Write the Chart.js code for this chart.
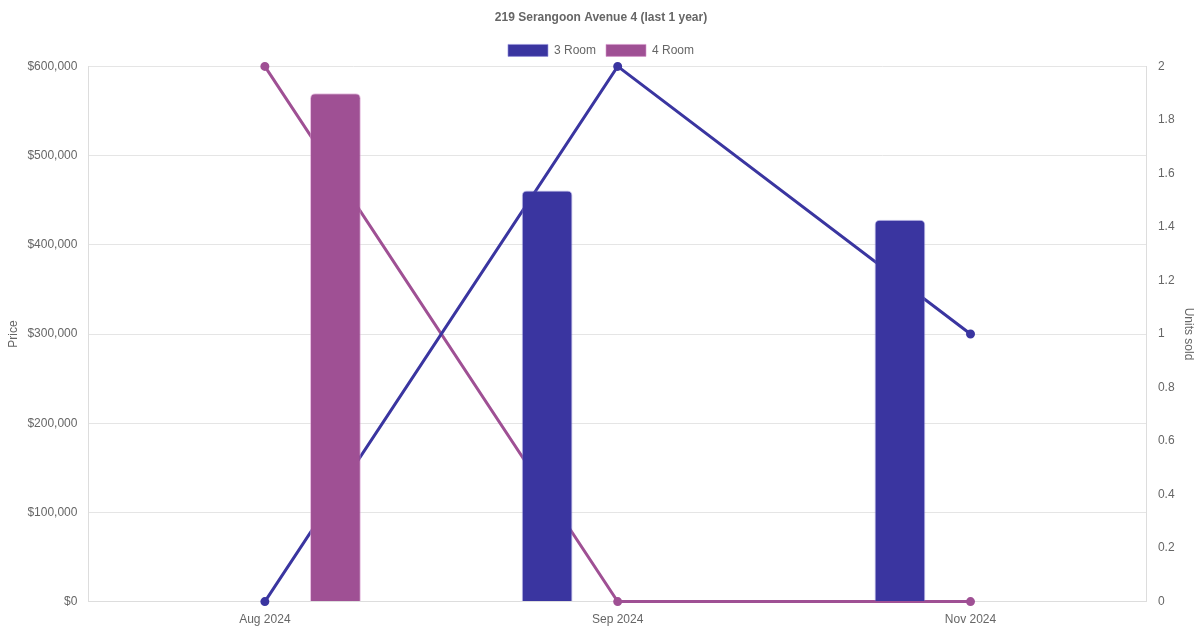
<!DOCTYPE html>
<html>
<head>
<meta charset="utf-8">
<script src="https://cdn.jsdelivr.net/npm/chart.js@4.4.0/dist/chart.umd.min.js"></script>
<style>
    html, body { margin: 0; padding: 0; background: #ffffff; }
    #box { width: 1200px; height: 630px; }
</style>
</head>
<body>
<div id="box"><canvas id="grafico"></canvas></div>
<script>
const meses = ['Aug 2024', 'Sep 2024', 'Nov 2024'];

// preços médios (barras, eixo esquerdo)
const preco3Room = [null, 461000, 428000];
const preco4Room = [570000, null, null];

// unidades vendidas (linhas, eixo direito)
const vendidos3Room = [0, 2, 1];
const vendidos4Room = [2, 0, 0];

const cor3 = '#3A35A0';
const cor4 = '#9F5094';

Chart.defaults.font.family = '"Liberation Sans", Arial, sans-serif';
Chart.defaults.font.size = 12;
Chart.defaults.color = '#666666';

const config = {
    type: 'bar',
    data: {
        labels: meses,
        datasets: [{
            label: '3 Room',
            data: preco3Room,
            backgroundColor: cor3,
            borderColor: 'rgba(150,145,220,0.6)',
            borderWidth: 1,
            borderRadius: 5,
            borderSkipped: 'bottom',
            yAxisID: 'y',
            barPercentage: 0.36,
            categoryPercentage: 0.8,
            order: 1
        },
        {
            label: '4 Room',
            data: preco4Room,
            backgroundColor: cor4,
            borderColor: 'rgba(215,150,205,0.6)',
            borderWidth: 1,
            borderRadius: 5,
            borderSkipped: 'bottom',
            yAxisID: 'y',
            barPercentage: 0.36,
            categoryPercentage: 0.8,
            order: 1
        },
        {
            type: 'line',
            label: '3 Room units',
            data: vendidos3Room,
            borderColor: cor3,
            backgroundColor: cor3,
            borderWidth: 3,
            pointRadius: 3,
            tension: 0,
            clip: false,
            yAxisID: 'y1',
            order: 2
        },
        {
            type: 'line',
            label: '4 Room units',
            data: vendidos4Room,
            borderColor: cor4,
            backgroundColor: cor4,
            borderWidth: 3,
            pointRadius: 3,
            tension: 0,
            clip: false,
            yAxisID: 'y1',
            order: 2
        }]
    },
    options: {
        responsive: true,
        maintainAspectRatio: false,
        animation: false,
        layout: { padding: { left: 2, right: 0, top: 0, bottom: 0 } },
        scales: {
            x: {
                grid: { display: false },
                border: { color: '#dddddd' }
            },
            y: {
                position: 'left',
                min: 0,
                max: 600000,
                ticks: {
                    stepSize: 100000,
                    callback: function (v) { return '$' + v.toLocaleString('en-US'); }
                },
                grid: { color: '#e5e5e5', tickColor: 'rgba(0,0,0,0)' },
                border: { color: '#dddddd' },
                title: { display: true, text: 'Price', padding: { top: 4, bottom: 4 } }
            },
            y1: {
                position: 'right',
                min: 0,
                max: 2,
                ticks: {
                    stepSize: 0.2,
                    callback: function (v) { return String(Math.round(v * 10) / 10); }
                },
                grid: { drawOnChartArea: false, tickColor: 'rgba(0,0,0,0)' },
                border: { color: '#dddddd' },
                title: { display: true, text: 'Units sold', padding: { top: 4, bottom: 4 } }
            }
        },
        plugins: {
            title: {
                display: true,
                text: '219 Serangoon Avenue 4 (last 1 year)',
                font: { weight: 'bold', size: 12 },
                padding: { top: 10, bottom: 10 }
            },
            legend: {
                position: 'top',
                labels: {
                    filter: function (item) { return item.datasetIndex < 2; }
                }
            },
            tooltip: { enabled: false }
        }
    }
};

new Chart(document.getElementById('grafico'), config);
</script>
</body>
</html>
